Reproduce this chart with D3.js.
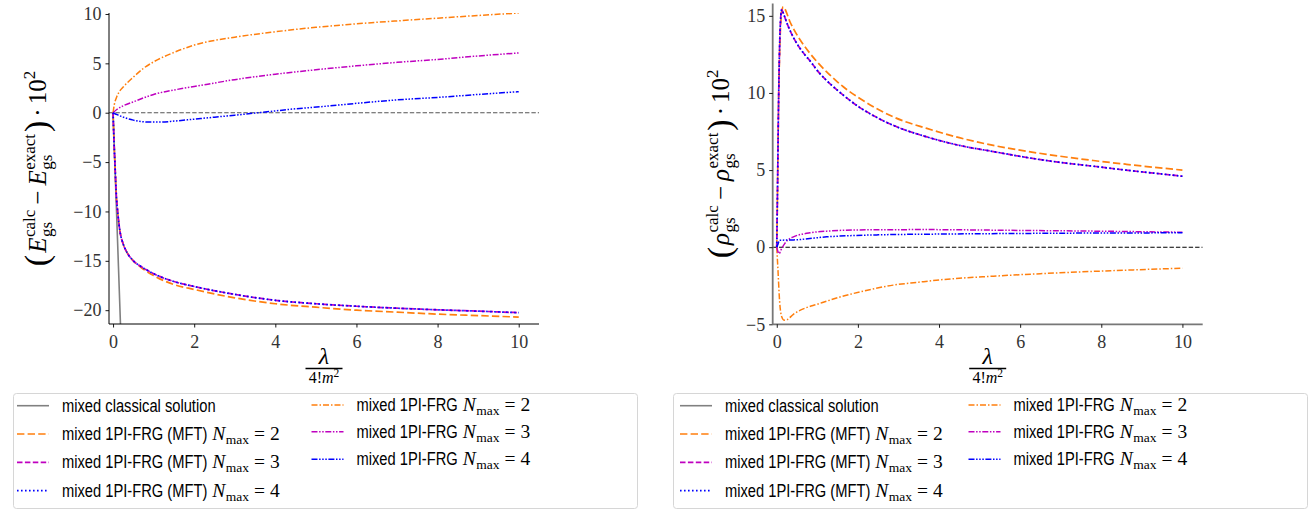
<!DOCTYPE html>
<html><head><meta charset="utf-8">
<script src="https://cdn.jsdelivr.net/npm/d3@7"></script>
<style>body{margin:0;background:#fff}svg{display:block}</style>
</head><body><svg id="c" width="1316" height="511"></svg>
<script>
// ---------- data ----------
const xTicks = [0, 2, 4, 6, 8, 10];
const yTicksE = [-20, -15, -10, -5, 0, 5, 10];
const yTicksRho = [-5, 0, 5, 10, 15];

// Left panel: energy error (x = lambda/(4! m^2), y = value *10^2)
const E_classical = [[0,0],[0.1,-11.7],[0.2,-23.4],[0.3,-35]];
const E_mft2 = [[0,0],[0.02,-2.5],[0.05,-5.5],[0.08,-8.3],[0.12,-10.3],[0.17,-12.0],[0.25,-13.3],[0.35,-14.2],[0.5,-15.0],[0.7,-15.7],[1,-16.5],[1.5,-17.4],[2,-17.9],[3,-18.75],[4,-19.35],[5,-19.7],[6,-20.0],[7,-20.2],[8,-20.4],[9,-20.55],[10,-20.7]];
const E_mft3 = [[0,0],[0.02,-2.5],[0.05,-5.5],[0.08,-8.3],[0.12,-10.3],[0.17,-12.0],[0.25,-13.3],[0.35,-14.2],[0.5,-15.0],[0.7,-15.6],[1,-16.3],[1.5,-17.1],[2,-17.6],[3,-18.4],[4,-19.0],[5,-19.35],[6,-19.6],[7,-19.8],[8,-19.96],[9,-20.1],[10,-20.25]];
const E_mft4 = [[0,0],[0.02,-2.5],[0.05,-5.5],[0.08,-8.3],[0.12,-10.3],[0.17,-12.0],[0.25,-13.3],[0.35,-14.2],[0.5,-15.0],[0.7,-15.6],[1,-16.3],[1.5,-17.1],[2,-17.6],[3,-18.4],[4,-19.0],[5,-19.35],[6,-19.6],[7,-19.8],[8,-19.96],[9,-20.1],[10,-20.25]];
const E_frg2 = [[0,0],[0.03,0.8],[0.08,1.5],[0.15,2.1],[0.25,2.6],[0.5,3.6],[0.75,4.5],[1,5.15],[1.5,6.1],[2,6.85],[3,7.65],[4,8.2],[5,8.65],[6,9.0],[7,9.3],[8,9.58],[9,9.85],[10,10.1]];
const E_frg3 = [[0,0],[0.1,0.35],[0.25,0.7],[0.5,1.1],[1,1.85],[1.5,2.3],[2,2.65],[3,3.35],[4,3.9],[5,4.35],[6,4.75],[7,5.1],[8,5.4],[9,5.75],[10,6.05]];
const E_frg4 = [[0,0],[0.1,-0.2],[0.25,-0.45],[0.5,-0.75],[0.9,-0.95],[1.2,-0.95],[1.5,-0.85],[2,-0.65],[2.5,-0.45],[3,-0.25],[3.7,0.05],[4.5,0.4],[5.2,0.64],[6,0.95],[7,1.3],[8,1.55],[9,1.85],[10,2.13]];

// Right panel: density error
const R_mft2 = [[0,0],[0.02,4],[0.04,8.5],[0.07,12.5],[0.1,14.6],[0.13,15.35],[0.16,15.58],[0.2,15.45],[0.25,15.15],[0.32,14.65],[0.41,14.18],[0.55,13.55],[0.7,12.98],[0.82,12.56],[1,12.0],[1.23,11.37],[1.44,10.85],[1.64,10.4],[2.05,9.64],[2.46,8.99],[2.87,8.45],[3.7,7.7],[4.5,7.1],[5.34,6.6],[6.2,6.2],[6.98,5.9],[7.8,5.62],[8.6,5.38],[9.3,5.18],[10,5.0]];
const R_mft3 = [[0,0],[0.02,4],[0.04,8.5],[0.07,13],[0.1,15.0],[0.12,15.4],[0.15,15.25],[0.2,14.9],[0.27,14.4],[0.34,13.98],[0.41,13.6],[0.55,12.98],[0.7,12.45],[0.82,12.08],[1,11.45],[1.23,10.8],[1.44,10.3],[1.64,9.86],[2.05,9.05],[2.46,8.42],[2.87,7.9],[3.7,7.15],[4.5,6.6],[5.34,6.2],[6.2,5.8],[6.98,5.5],[7.8,5.25],[8.6,5.0],[9.3,4.8],[10,4.6]];
const R_mft4 = [[0,0],[0.02,4],[0.04,8.5],[0.07,13],[0.1,15.0],[0.12,15.4],[0.15,15.25],[0.2,14.9],[0.27,14.4],[0.34,13.98],[0.41,13.6],[0.55,12.98],[0.7,12.45],[0.82,12.08],[1,11.45],[1.23,10.8],[1.44,10.3],[1.64,9.86],[2.05,9.05],[2.46,8.42],[2.87,7.9],[3.7,7.15],[4.5,6.6],[5.34,6.2],[6.2,5.8],[6.98,5.5],[7.8,5.25],[8.6,5.0],[9.3,4.8],[10,4.6]];
const R_frg2 = [[0,0],[0.03,-1.5],[0.07,-3.5],[0.12,-4.5],[0.18,-4.73],[0.25,-4.7],[0.41,-4.35],[0.7,-3.95],[1,-3.7],[1.23,-3.5],[1.6,-3.2],[2.05,-2.9],[2.87,-2.46],[3.5,-2.27],[4.1,-2.1],[5.34,-1.88],[6.98,-1.66],[8.6,-1.49],[10,-1.36]];
const R_frg3 = [[0,0],[0.03,-0.3],[0.06,-0.42],[0.1,-0.2],[0.2,0.25],[0.41,0.67],[0.82,0.93],[1.23,1.04],[2.05,1.12],[3.7,1.14],[5.5,1.1],[7.5,1.05],[10,0.97]];
const R_frg4 = [[0,0],[0.03,0.2],[0.07,0.45],[0.41,0.47],[1.23,0.67],[2.5,0.8],[4,0.85],[6,0.89],[8,0.92],[10,0.93]];

const legendLabels = [
  {key:"cls", text:"mixed classical solution", n:null},
  {key:"mft2", text:"mixed 1PI-FRG (MFT)", n:"2"},
  {key:"mft3", text:"mixed 1PI-FRG (MFT)", n:"3"},
  {key:"mft4", text:"mixed 1PI-FRG (MFT)", n:"4"},
  {key:"frg2", text:"mixed 1PI-FRG", n:"2"},
  {key:"frg3", text:"mixed 1PI-FRG", n:"3"},
  {key:"frg4", text:"mixed 1PI-FRG", n:"4"}
];

// ---------- styles ----------
const ORANGE = "#ff7f0e", MAG = "#bf00bf", BLUE = "#0000ff", GRAY = "#808080";
const styles = {
  cls:  {color:GRAY,   dash:null,                 w:1.6},
  mft2: {color:ORANGE, dash:"7.4,3.2",            w:1.7},
  mft3: {color:MAG,    dash:"5.5,2.4",            w:1.7},
  mft4: {color:BLUE,   dash:"1.6,2.4",            w:1.7},
  frg2: {color:ORANGE, dash:"6,2,1.5,2",          w:1.5},
  frg3: {color:MAG,    dash:"6,1.6,1.5,1.6,1.5,1.6", w:1.5},
  frg4: {color:BLUE,   dash:"6,1.6,1.5,1.6,1.5,1.6,1.5,1.6", w:1.5}
};
const SERIF = "'Liberation Serif','DejaVu Serif',serif";
const SANS = "'Liberation Sans','DejaVu Sans',sans-serif";

const svg = d3.select("#c");

function drawMath(g, tokens) {
  let x = 0;
  for (const tk of tokens) {
    const items = tk.stack ? tk.stack : [tk];
    let adv = 0;
    for (const it of items) {
      const sx = it.sx || 1;
      const t = g.append("text")
        .attr("transform", `translate(${x + (it.dx||0)},${it.dy||0}) scale(${sx},1)`)
        .style("font-family", it.family || SERIF).attr("font-size", it.size)
        .attr("font-style", it.italic ? "italic" : "normal")
        .attr("fill", "#000").text(it.text);
      adv = Math.max(adv, t.node().getComputedTextLength() * sx + (it.dx||0));
    }
    x += adv + (tk.after || 0);
  }
  return x;
}

function panel(opt) {
  const x = d3.scaleLinear().domain([-0.1, 10.5]).range([opt.left, opt.right]);
  const y = d3.scaleLinear().domain(opt.ydom).range([opt.bottom, opt.top]);
  const cid = "clip" + opt.id;
  svg.append("clipPath").attr("id", cid).append("rect")
    .attr("x", opt.left).attr("y", opt.top).attr("width", opt.right - opt.left).attr("height", opt.bottom - opt.top);
  const plot = svg.append("g").attr("clip-path", `url(#${cid})`);
  const line = d3.line().x(d => x(d[0])).y(d => y(d[1])).curve(d3.curveMonotoneX);

  plot.append("path").attr("d", d3.line()([[x(-0.1), y(0)], [x(10.5), y(0)]]))
    .attr("stroke", opt.zeroColor).attr("stroke-width", 1.1).attr("stroke-dasharray", "4.4,2").attr("fill", "none");

  for (const s of opt.series) {
    const st = styles[s.key];
    plot.append("path").datum(s.data).attr("d", line).attr("fill", "none")
      .attr("stroke", st.color).attr("stroke-width", st.w)
      .attr("stroke-dasharray", st.dash).attr("stroke-linejoin", "round");
  }

  const fmt = d => (d < 0 ? "\u2212" + Math.abs(d) : String(d));
  const xa = svg.append("g").attr("transform", `translate(0,${opt.bottom})`)
    .call(d3.axisBottom(x).tickValues(xTicks).tickSize(3.5).tickPadding(4).tickFormat(fmt));
  const ya = svg.append("g").attr("transform", `translate(${opt.left},0)`)
    .call(d3.axisLeft(y).tickValues(opt.yticks).tickSize(3.5).tickPadding(4).tickFormat(fmt));
  for (const a of [xa, ya]) {
    a.attr("font-family", null);
    a.select(".domain").attr("stroke", opt.spine).attr("stroke-width", opt.spineW);
    a.selectAll(".tick line").attr("stroke", "#000").attr("stroke-width", 0.9);
    a.selectAll(".tick text").style("font-family", SERIF).attr("font-size", 18).attr("fill", "#333");
  }
  ya.select(".domain").attr("d", `M-0,${opt.bottom}V${opt.top}`);
  xa.select(".domain").attr("d", `M${opt.left},0H${opt.right}`);
  xa.selectAll(".tick text").attr("dy", "0.9em");

  // x label: fraction lambda / 4! m^2
  const cx = (opt.left + opt.right) / 2;
  svg.append("text").attr("x", cx).attr("y", 364).attr("text-anchor", "middle")
    .style("font-family", SERIF).attr("font-style", "italic").attr("font-size", 24).text("\u03bb");
  svg.append("line").attr("x1", cx - 18.5).attr("x2", cx + 18.5).attr("y1", 368.5).attr("y2", 368.5)
    .attr("stroke", "#000").attr("stroke-width", 1.3);
  const den = svg.append("g");
  const dw = drawMath(den, [
    {text:"4!", size:16},
    {text:"m", size:16, italic:true},
    {text:"2", size:11.5, dy:-6.5}
  ]);
  den.attr("transform", `translate(${cx - dw/2},${383})`);

  // y label
  const yl = svg.append("g");
  const inner = yl.append("g");
  const sym = opt.sym;
  const w = drawMath(inner, [
    {text:"(", size:34, dy:2, after:2},
    {text:sym, size:25, italic:true, after:0.5},
    {stack:[{text:"calc", size:17, dy:-11}, {text:"gs", size:17, dy:6}], after:5},
    {text:"\u2212", size:25, after:5},
    {text:sym, size:25, italic:true, after:0.5},
    {stack:[{text:"exact", size:17, dy:-11}, {text:"gs", size:17, dy:6}], after:2},
    {text:")", size:34, dy:2, after:4},
    {text:"\u00b7", size:25, after:4},
    {text:"10", size:25},
    {text:"2", size:17, dy:-11}
  ]);
  inner.attr("transform", `translate(${-w/2},0)`);
  yl.attr("transform", `translate(${opt.ylx},${(opt.top + opt.bottom)/2}) rotate(-90)`);
}

panel({id:"L", left:109, right:539, top:13, bottom:324, ydom:[-21.4, 10.1], yticks:yTicksE,
  zeroColor:"#555", spine:"#000", spineW:1, ylx:46, sym:"E",
  series:[{key:"cls",data:E_classical},{key:"mft2",data:E_mft2},{key:"mft3",data:E_mft3},{key:"mft4",data:E_mft4},
          {key:"frg2",data:E_frg2},{key:"frg3",data:E_frg3},{key:"frg4",data:E_frg4}]});
panel({id:"R", left:772.7, right:1202.7, top:3.5, bottom:324.3, ydom:[-5, 15.8], yticks:yTicksRho,
  zeroColor:"#000", spine:"#777", spineW:1.8, ylx:729, sym:"\u03c1",
  series:[{key:"mft2",data:R_mft2},{key:"mft3",data:R_mft3},{key:"mft4",data:R_mft4},
          {key:"frg2",data:R_frg2},{key:"frg3",data:R_frg3},{key:"frg4",data:R_frg4}]});

// ---------- legends ----------
function legend(bx, by, bw, bh, col1x, col2x) {
  svg.append("rect").attr("x", bx + 0.5).attr("y", by + 0.5).attr("width", bw).attr("height", bh)
    .attr("rx", 3).attr("fill", "#fff").attr("stroke", "#d6d6d6").attr("stroke-width", 1);
  const rows1 = [405.7, 434, 462.3, 490.7], rows2 = [405, 431.7, 459.3];
  legendLabels.forEach((L, i) => {
    const col = i < 4 ? 0 : 1;
    const cy = col === 0 ? rows1[i] : rows2[i - 4];
    const lx = col === 0 ? col1x : col2x;
    const st = styles[L.key];
    svg.append("line").attr("x1", lx).attr("x2", lx + 32).attr("y1", cy).attr("y2", cy)
      .attr("stroke", st.color).attr("stroke-width", st.w).attr("stroke-dasharray", st.dash);
    const g = svg.append("g").attr("transform", `translate(${lx + 45},${cy + 6})`);
    const toks = [{text:L.text, size:17.5, family:SANS, sx:0.84, after:5}];
    if (L.n) {
      toks.push({text:"N", size:19.5, italic:true, after:0.5});
      toks.push({text:"max", size:13.5, dy:4, after:5});
      toks.push({text:"=", size:19.5, after:5});
      toks.push({text:L.n, size:19.5});
    }
    drawMath(g, toks);
  });
}
legend(13, 393, 624, 115, 17, 311.5);
legend(673, 393, 634, 115, 680, 968.5);
</script></body></html>
